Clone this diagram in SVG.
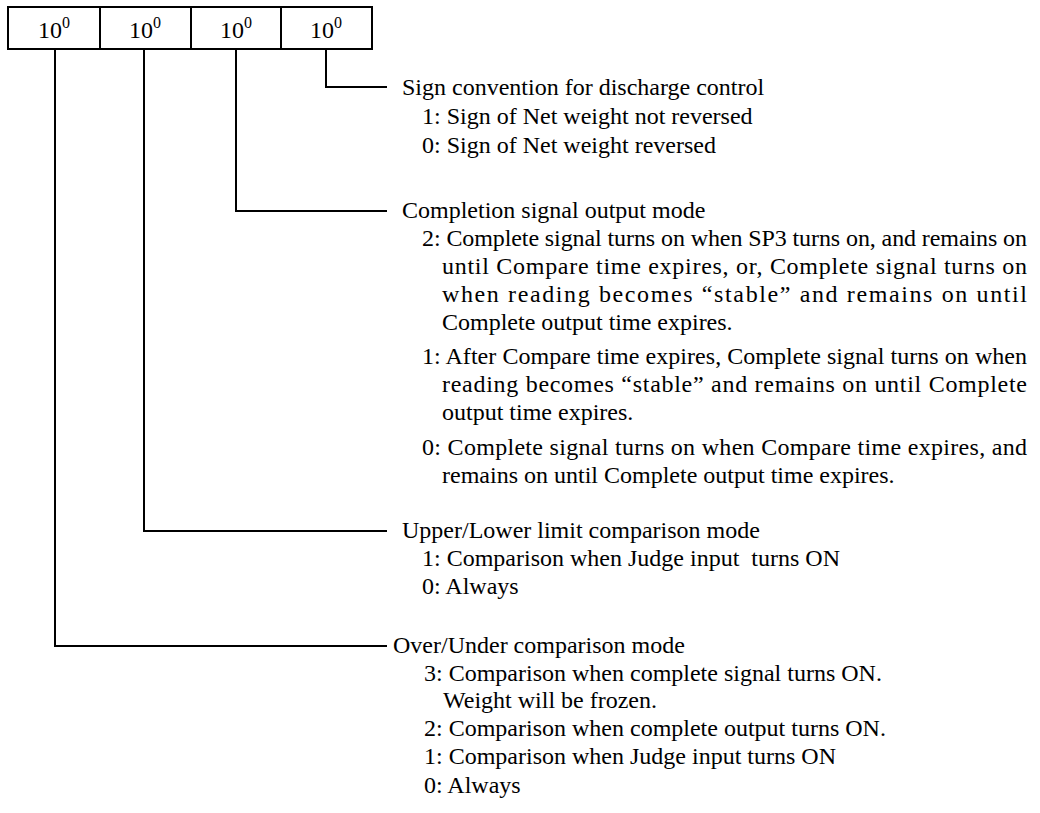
<svg xmlns="http://www.w3.org/2000/svg" width="1040" height="813" viewBox="0 0 1040 813">
<style>
text{font-family:"Liberation Serif","Times New Roman",serif;font-size:24px;fill:#000}
.sup{font-size:16px}
.ln{fill:none;stroke:#000;stroke-width:2}
</style>
<rect width="1040" height="813" fill="#fff"/>
<g id="register">
<rect class="ln" x="8" y="7" width="364" height="42"/>
<line class="ln" x1="100" y1="7" x2="100" y2="49"/>
<line class="ln" x1="191" y1="7" x2="191" y2="49"/>
<line class="ln" x1="281" y1="7" x2="281" y2="49"/>
<text x="38" y="38">10<tspan class="sup" dy="-10">0</tspan></text>
<text x="129" y="38">10<tspan class="sup" dy="-10">0</tspan></text>
<text x="220" y="38">10<tspan class="sup" dy="-10">0</tspan></text>
<text x="310" y="38">10<tspan class="sup" dy="-10">0</tspan></text>
</g>
<g id="connectors">
<polyline class="ln" points="326,49 326,87 387,87"/>
<polyline class="ln" points="236,49 236,211 387,211"/>
<polyline class="ln" points="144,49 144,531 387,531"/>
<polyline class="ln" points="55,49 55,646 387,646"/>
</g>
<g id="sign">
<text x="402" y="95">Sign convention for discharge control</text>
<text x="422" y="124">1: Sign of Net weight not reversed</text>
<text x="422" y="153">0: Sign of Net weight reversed</text>
</g>
<g id="completion">
<text x="402" y="218">Completion signal output mode</text>
<text x="422" y="246" textLength="605" lengthAdjust="spacing">2: Complete signal turns on when SP3 turns on, and remains on</text>
<text x="442" y="274" textLength="585" lengthAdjust="spacing">until Compare time expires, or, Complete signal turns on</text>
<text x="442" y="302" textLength="585" lengthAdjust="spacing">when reading becomes “stable” and remains on until</text>
<text x="442" y="330">Complete output time expires.</text>
<text x="422" y="364" textLength="605" lengthAdjust="spacing">1: After Compare time expires, Complete signal turns on when</text>
<text x="442" y="392" textLength="585" lengthAdjust="spacing">reading becomes “stable” and remains on until Complete</text>
<text x="442" y="420">output time expires.</text>
<text x="422" y="455" textLength="605" lengthAdjust="spacing">0: Complete signal turns on when Compare time expires, and</text>
<text x="442" y="483">remains on until Complete output time expires.</text>
</g>
<g id="limit">
<text x="402" y="538">Upper/Lower limit comparison mode</text>
<text x="422" y="566" xml:space="preserve">1: Comparison when Judge input  turns ON</text>
<text x="422" y="594">0: Always</text>
</g>
<g id="overunder">
<text x="393" y="653">Over/Under comparison mode</text>
<text x="424" y="681">3: Comparison when complete signal turns ON.</text>
<text x="443" y="708">Weight will be frozen.</text>
<text x="424" y="736">2: Comparison when complete output turns ON.</text>
<text x="424" y="764">1: Comparison when Judge input turns ON</text>
<text x="424" y="793">0: Always</text>
</g>
</svg>
